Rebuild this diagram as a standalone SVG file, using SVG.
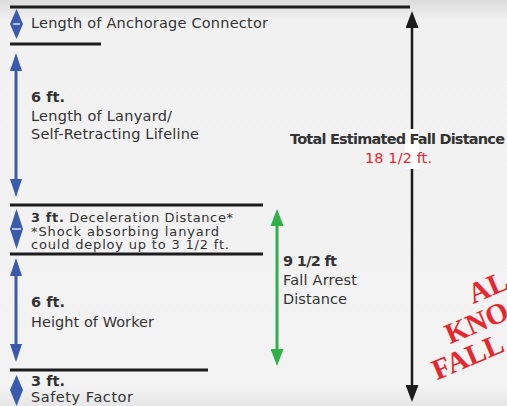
<svg xmlns="http://www.w3.org/2000/svg" width="507" height="406" viewBox="0 0 507 406">
<style>
  .t{font-family:"DejaVu Sans","Liberation Sans",sans-serif;font-size:14.5px;fill:#333333}
  .s{font-size:13px}
  .b{font-weight:bold}
  .red{fill:#e8262d}
  .rule{stroke:#1c1c1c;stroke-width:3;fill:none}
  .blue{stroke:#3a5bad;stroke-width:3;fill:none}
  .green{stroke:#2fb14a;stroke-width:3;fill:none}
  .black{stroke:#1c1c1c;stroke-width:2.5;fill:none}
  .dia{fill:#3a5bad}
  .dash{stroke:#ffffff;stroke-width:1.2}
  .stamp{font-family:"Liberation Serif","DejaVu Serif",serif;font-weight:bold;font-size:29px;fill:#e8262d}
</style>
<defs>
  <linearGradient id="bg" x1="0" y1="0" x2="0" y2="1">
    <stop offset="0" stop-color="#dcdcdc"/>
    <stop offset="0.05" stop-color="#f1f1f1"/>
    <stop offset="0.95" stop-color="#f3f3f3"/>
    <stop offset="1" stop-color="#e6e6e6"/>
  </linearGradient>
  <marker id="hb" markerUnits="userSpaceOnUse" markerWidth="18" markerHeight="12" refX="2" refY="6" orient="auto-start-reverse"><path d="M0,0 L18,6 L0,12 Z" fill="#3a5bad"/></marker>
  <marker id="hg" markerUnits="userSpaceOnUse" markerWidth="18" markerHeight="13" refX="2" refY="6.5" orient="auto-start-reverse"><path d="M0,0 L17,6.5 L0,13 Z" fill="#2fb14a"/></marker>
  <marker id="hk" markerUnits="userSpaceOnUse" markerWidth="18" markerHeight="13" refX="2" refY="6.5" orient="auto-start-reverse"><path d="M0,0 L17,6.5 L0,13 Z" fill="#1c1c1c"/></marker>
</defs>
<rect x="0" y="0" width="507" height="406" fill="url(#bg)"/>

<g id="rules">
  <line class="rule" x1="10" y1="7" x2="410" y2="7"/>
  <line class="rule" x1="10" y1="44" x2="101" y2="44"/>
  <line class="rule" x1="10" y1="205" x2="263" y2="205"/>
  <line class="rule" x1="10" y1="254" x2="263" y2="254"/>
  <line class="rule" x1="10" y1="370" x2="208" y2="370"/>
</g>

<g id="connectors">
  <line class="blue" x1="16" y1="69" x2="16" y2="181" marker-start="url(#hb)" marker-end="url(#hb)"/>
  <line class="blue" x1="16" y1="274" x2="16" y2="346" marker-start="url(#hb)" marker-end="url(#hb)"/>
  <line class="green" x1="277" y1="224" x2="277" y2="351" marker-start="url(#hg)" marker-end="url(#hg)"/>
  <line class="black" x1="412" y1="26" x2="412" y2="387" marker-start="url(#hk)" marker-end="url(#hk)"/>
  <polygon class="dia" points="16.5,9 23,24 16.5,39 10,24"/>
  <line class="dash" x1="13" y1="24" x2="20" y2="24"/>
  <polygon class="dia" points="16.5,209 23,229 16.5,249 10,229"/>
  <line class="dash" x1="12" y1="229" x2="21" y2="229"/>
  <polygon class="dia" points="16.5,375 23,390 16.5,406 10,390"/>
</g>

<g id="anchorage">
  <text class="t" x="31" y="28" textLength="237">Length of Anchorage Connector</text>
</g>
<g id="lanyard">
  <text class="t b" x="31" y="102">6 ft.</text>
  <text class="t" x="31" y="121" textLength="141">Length of Lanyard/</text>
  <text class="t" x="31" y="139" textLength="168">Self-Retracting Lifeline</text>
</g>
<g id="deceleration">
  <text class="t s" x="31" y="222" textLength="202"><tspan class="b">3 ft.</tspan> Deceleration Distance*</text>
  <text class="t s" x="31" y="235.5" textLength="188">*Shock absorbing lanyard</text>
  <text class="t s" x="31" y="249" textLength="198">could deploy up to 3 1/2 ft.</text>
</g>
<g id="worker">
  <text class="t b" x="31" y="307">6 ft.</text>
  <text class="t" x="31" y="327" textLength="123">Height of Worker</text>
</g>
<g id="safety">
  <text class="t b" x="31" y="386">3 ft.</text>
  <text class="t" x="31" y="402" textLength="102">Safety Factor</text>
</g>
<g id="fall-arrest">
  <text class="t b" x="283" y="266" textLength="54">9 1/2 ft</text>
  <text class="t" x="283" y="285" textLength="74">Fall Arrest</text>
  <text class="t" x="283" y="304" textLength="64">Distance</text>
</g>
<g id="total">
  <rect x="405" y="129" width="14" height="40" fill="#ffffff"/>
  <text class="t b" x="290" y="144" textLength="215">Total Estimated Fall Distance</text>
  <text class="t red" x="365" y="163" textLength="67">18 1/2 ft.</text>
</g>
<g id="stamp" transform="translate(473,304) rotate(-23)">
  <text class="stamp" x="0" y="0">AL</text>
  <text class="stamp" x="-37" y="28">KNO</text>
  <text class="stamp" x="-63" y="56">FALL</text>
</g>
</svg>
